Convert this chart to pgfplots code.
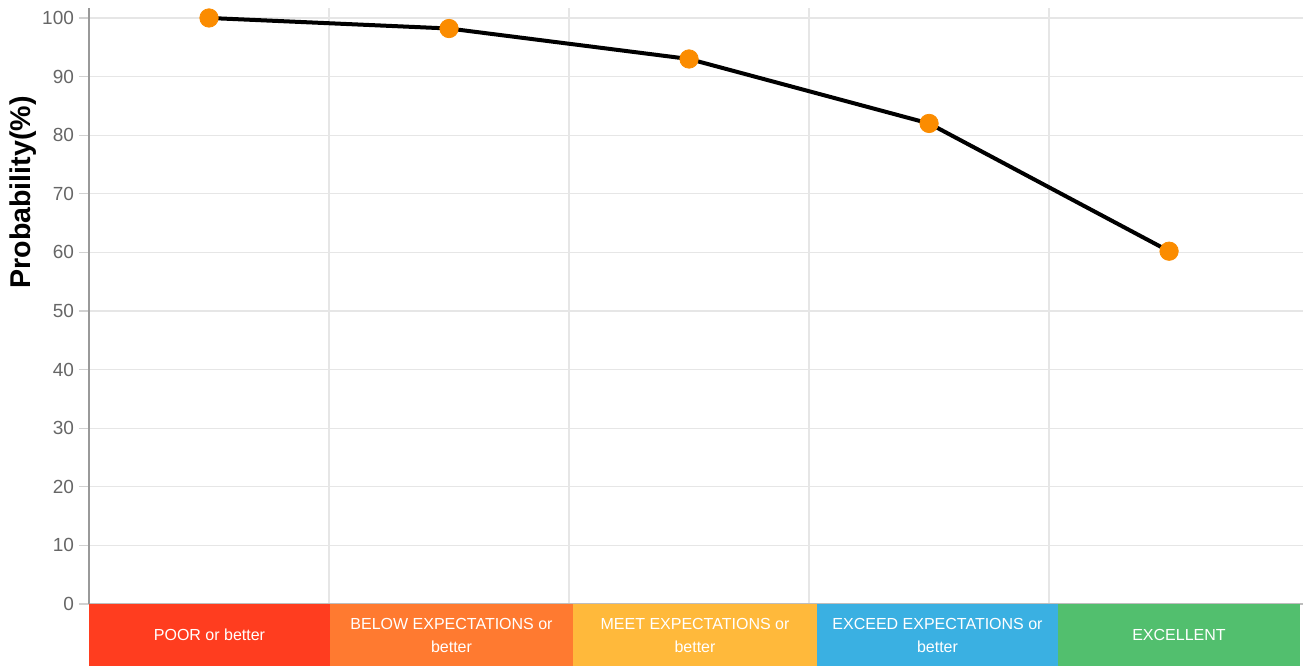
\documentclass[border=0pt]{standalone}
\usepackage{pgfplots}
\pgfplotsset{compat=1.18}
\usepackage{fontspec}
\setmainfont{Liberation Sans}
\definecolor{gridc}{HTML}{E6E6E6}
\definecolor{tickc}{HTML}{666666}
\definecolor{markc}{HTML}{FB8C00}
\definecolor{cpoor}{HTML}{FF3D1F}
\definecolor{cbelow}{HTML}{FF7A30}
\definecolor{cmeet}{HTML}{FFB93B}
\definecolor{cexceed}{HTML}{3AB0E2}
\definecolor{cexc}{HTML}{52BF6E}
\begin{document}
\begin{tikzpicture}
\path[use as bounding box] (0,0) rectangle (653.5pt,333pt);
\begin{axis}[
  at={(44.5pt,31pt)}, anchor=south west,
  scale only axis, width=607pt, height=298pt,
  xmin=-0.5, xmax=4.558, ymin=0, ymax=101.7,
  xtick={0.5,1.5,2.5,3.5}, xticklabels={},
  ytick={0,10,...,100},
  grid=major, major grid style={draw=gridc, line width=0.6pt},
  axis lines*=left,
  x axis line style={draw=gridc!60!gray, line width=0.6pt},
  y axis line style={draw=gray!80, line width=0.6pt},
  x tick style={draw=none},
  y tick style={draw=gridc!80!gray, line width=0.6pt},
  major tick length=5pt, tick align=outside,
  /pgf/number format/assume math mode=true,
  yticklabel style={font=\fontsize{9.5}{11}\selectfont, text=tickc, xshift=1pt},
  clip=false,
]
\addplot[black, line width=2pt, mark=*, mark size=4.6pt,
  mark options={fill=markc, draw=markc, line width=0.4pt}]
  coordinates {(0,100) (1,98.2) (2,93) (3,82) (4,60.2)};
\end{axis}
\fill[cpoor]   (44.5pt,0) rectangle (165pt,31pt);
\fill[cbelow]  (165pt,0) rectangle (286.5pt,31pt);
\fill[cmeet]   (286.5pt,0) rectangle (408.5pt,31pt);
\fill[cexceed] (408.5pt,0) rectangle (529pt,31pt);
\fill[cexc]    (529pt,0) rectangle (650pt,31pt);
\tikzset{blab/.style={text=white, font=\fontsize{8}{11.5}\selectfont, align=center, inner sep=0pt}}
\node[blab] at (104.75pt,15.5pt) {POOR or better};
\node[blab] at (225.75pt,15.5pt) {BELOW EXPECTATIONS or\\better};
\node[blab] at (347.5pt,15.5pt) {MEET EXPECTATIONS or\\better};
\node[blab] at (468.75pt,15.5pt) {EXCEED EXPECTATIONS or\\better};
\node[blab] at (589.5pt,15.5pt) {EXCELLENT};
\node[rotate=90, font=\bfseries\fontsize{14.3}{16}\selectfont, inner sep=0pt] at (11.75pt,236.75pt) {Probability(\%)};
\end{tikzpicture}
\end{document}
